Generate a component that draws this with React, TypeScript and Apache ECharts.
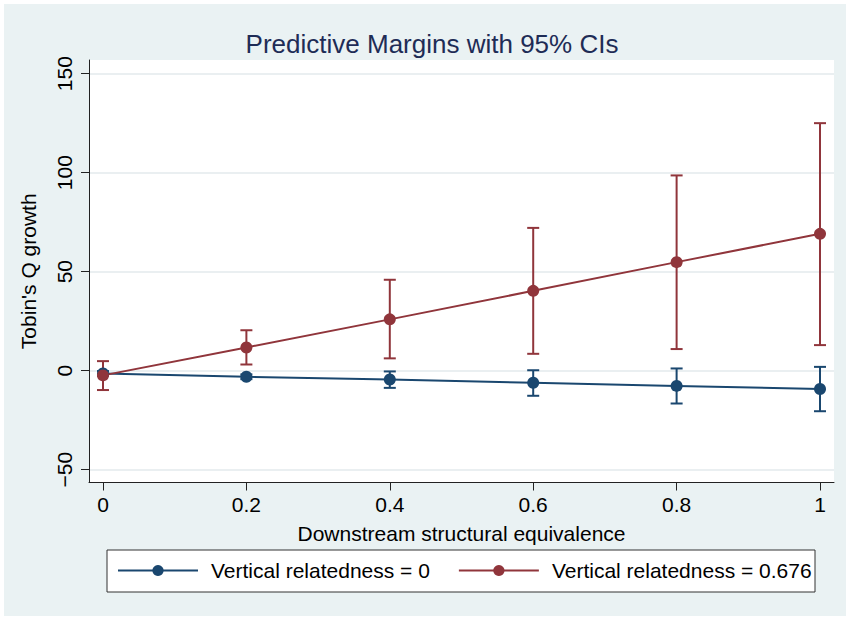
import React, { useEffect, useRef } from "react";
import * as echarts from "echarts";

const xValues = [0, 0.2, 0.4, 0.6, 0.8, 1];
const xTicks = [0, 0.2, 0.4, 0.6, 0.8, 1];
const yTicks = [-50, 0, 50, 100, 150];

const blueName = "Vertical relatedness = 0";
const blueMean = [-1.4, -3.1, -4.5, -6.1, -7.7, -9.3];
const blueLow = [-2.6, -4.3, -8.7, -12.7, -16.6, -20.5];
const blueHigh = [-0.2, -1.9, -0.4, 0.2, 1.1, 1.9];

const redName = "Vertical relatedness = 0.676";
const redMean = [-2.4, 11.7, 25.9, 40.3, 54.8, 69.1];
const redLow = [-9.8, 3.1, 6.2, 8.5, 10.9, 12.9];
const redHigh = [4.8, 20.4, 45.9, 72.1, 98.6, 125.0];

const titleText = "Predictive Margins with 95% CIs";
const xTitle = "Downstream structural equivalence";
const yTitle = "Tobin's Q growth";

const BLUE = "#1a476f";
const RED = "#90353b";
const PANEL = "#eaf2f3";
const GRID = "#e3eaed";
const FONT = "'Liberation Sans', Arial, sans-serif";

function fmtNum(v: number): string {
  const r = Math.round(v * 10) / 10;
  return r < 0 ? "\u2212" + String(Math.abs(r)) : String(r);
}

function errorBarSeries(color: string, lo: number[], hi: number[]) {
  return {
    type: "custom",
    z: 1,
    silent: true,
    encode: { x: 0, y: [1, 2] },
    data: xValues.map((x, i) => [x, lo[i], hi[i]]),
    renderItem: (params: any, api: any) => {
      const x = api.value(0);
      const pLo = api.coord([x, api.value(1)]);
      const pHi = api.coord([x, api.value(2)]);
      const hw = 6;
      const st = { stroke: color, lineWidth: 2 };
      return {
        type: "group",
        children: [
          { type: "line", shape: { x1: pLo[0], y1: pLo[1], x2: pHi[0], y2: pHi[1] }, style: st },
          { type: "line", shape: { x1: pLo[0] - hw, y1: pLo[1], x2: pLo[0] + hw, y2: pLo[1] }, style: st },
          { type: "line", shape: { x1: pHi[0] - hw, y1: pHi[1], x2: pHi[0] + hw, y2: pHi[1] }, style: st },
        ],
      };
    },
  };
}

function lineSeries(name: string, color: string, vals: number[]) {
  return {
    type: "line",
    name,
    z: 3,
    data: xValues.map((x, i) => [x, vals[i]]),
    symbol: "circle",
    symbolSize: 12,
    showSymbol: true,
    lineStyle: { color, width: 2 },
    itemStyle: { color },
    emphasis: { disabled: true },
  };
}

export default function App() {
  const ref = useRef<HTMLDivElement>(null);
  useEffect(() => {
    if (!ref.current) return;
    const chart = echarts.init(ref.current, undefined, { renderer: "svg" });
    chart.setOption({
      animation: false,
      backgroundColor: PANEL,
      textStyle: { fontFamily: FONT },
      title: {
        text: titleText,
        left: 423,
        top: 22,
        textAlign: "center",
        textStyle: { fontFamily: FONT, fontSize: 26, fontWeight: "normal", color: "#1e2c56" },
      },
      graphic: [
        {
          type: "rect",
          shape: { x: 103, y: 546, width: 708, height: 42 },
          style: { fill: "#ffffff", stroke: "#333333", lineWidth: 1 },
          z: 0,
        },
      ],
      legend: {
        left: 113,
        top: 556,
        padding: 0,
        itemWidth: 80,
        itemHeight: 14,
        itemGap: 28,
        z: 5,
        data: [blueName, redName],
        textStyle: { fontFamily: FONT, fontSize: 21, color: "#000", padding: [0, 0, 0, 8] },
      },
      grid: {
        left: 85,
        right: 12,
        top: 56,
        bottom: 133.5,
        show: true,
        backgroundColor: "#ffffff",
        borderWidth: 0,
      },
      xAxis: {
        type: "value",
        min: -0.0195,
        max: 1.0195,
        name: xTitle,
        nameLocation: "middle",
        nameGap: 40,
        nameTextStyle: { fontFamily: FONT, fontSize: 21, color: "#000" },
        axisLine: { show: true, onZero: false, lineStyle: { color: "#222", width: 1 } },
        axisTick: { show: true, length: 8, customValues: xTicks, lineStyle: { color: "#222", width: 1 } },
        axisLabel: {
          customValues: xTicks,
          margin: 11,
          fontFamily: FONT,
          fontSize: 21,
          color: "#000",
          formatter: (v: number) => fmtNum(v),
        },
        splitLine: { show: false },
      },
      yAxis: {
        type: "value",
        min: -56.5,
        max: 156.9,
        name: yTitle,
        nameLocation: "middle",
        nameGap: 61,
        nameRotate: 90,
        nameTextStyle: { fontFamily: FONT, fontSize: 21, color: "#000", align: "center", verticalAlign: "middle" },
        axisLine: { show: true, onZero: false, lineStyle: { color: "#222", width: 1 } },
        axisTick: { show: true, length: 8, customValues: yTicks, lineStyle: { color: "#222", width: 1 } },
        axisLabel: {
          customValues: yTicks,
          rotate: 90,
          margin: 14,
          align: "center",
          verticalAlign: "bottom",
          fontFamily: FONT,
          fontSize: 21,
          color: "#000",
          formatter: (v: number) => fmtNum(v),
        },
        splitLine: { show: true, lineStyle: { color: GRID, width: 1.5 } },
      },
      series: [
        errorBarSeries(BLUE, blueLow, blueHigh),
        errorBarSeries(RED, redLow, redHigh),
        lineSeries(blueName, BLUE, blueMean),
        lineSeries(redName, RED, redMean),
      ],
    });
    return () => chart.dispose();
  }, []);
  return (
    <div style={{ position: "absolute", left: 0, top: 0, width: 850, height: 620, background: "#ffffff" }}>
      <div ref={ref} style={{ position: "absolute", left: 4, top: 4, width: 842, height: 612 }} />
    </div>
  );
}
